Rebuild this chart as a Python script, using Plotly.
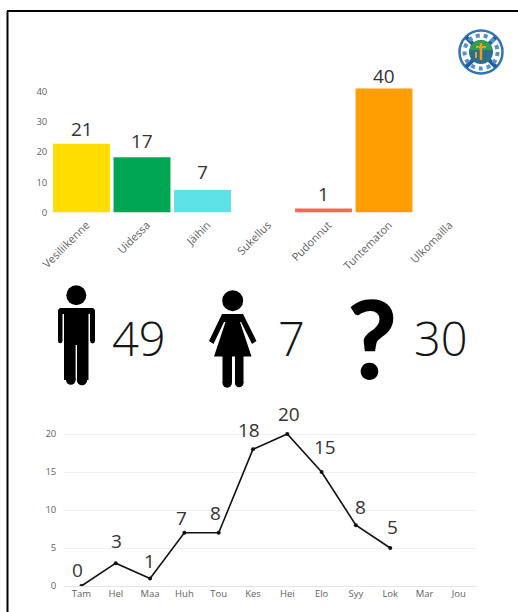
import plotly.graph_objects as go

# Cause chart
causes = ["Vesiliikenne", "Uidessa", "Jäihin", "Sukellus", "Pudonnut", "Tuntematon", "Ulkomailla"]
cause_heights = [22.7, 18.3, 7.4, 0, 1.3, 41, 0]
cause_labels = ["21", "17", "7", "", "1", "40", ""]
cause_colors = ["#FFDD00", "#00A651", "#5CE1E6", "#FFFFFF", "#FF6650", "#FF9E00", "#FFFFFF"]

# Monthly chart
months = ["Tam", "Hel", "Maa", "Huh", "Tou", "Kes", "Hei", "Elo", "Syy", "Lok", "Mar", "Jou"]
month_values = [0, 3, 1, 7, 7, 18, 20, 15, 8, 5]
month_labels = ["0", "3", "1", "7", "8", "18", "20", "15", "8", "5"]
month_xshift = [-4, 1, -1, -3, -3, -4, 2, 3, 5, 2]
month_yshift = [16, 22, 17, 15, 20, 19, 20, 25, 18, 21]

# Gender counts
gender_counts = ["49", "7", "30"]

W, H = 518, 612
FONT = "Open Sans"
TICK = "#5F5F5F"

fig = go.Figure()
fig.add_trace(go.Bar(x=causes, y=cause_heights, marker=dict(color=cause_colors, line=dict(width=0)),
                     width=0.94, xaxis="x", yaxis="y", showlegend=False))
fig.add_trace(go.Scatter(x=months[:len(month_values)], y=month_values, mode="lines+markers",
                         line=dict(color="#111111", width=1.6), marker=dict(color="#111111", size=4),
                         xaxis="x2", yaxis="y2", showlegend=False))
# decorative pixel-unit axis for the border, icons and logo
fig.add_trace(go.Scatter(x=[0], y=[0], mode="markers", marker=dict(opacity=0), xaxis="x3", yaxis="y3",
                         showlegend=False, hoverinfo="skip"))

ann = []
bar_yshift = [0, 1, 3, 0, 0, -2, 0]
for c, h, t, s in zip(causes, cause_heights, cause_labels, bar_yshift):
    if t:
        ann.append(dict(x=c, y=h, xref="x", yref="y", text=t, showarrow=False, yanchor="bottom",
                        yshift=s, font=dict(family=FONT, size=19, color="#333333")))
for m, v, t, dx, dy in zip(months, month_values, month_labels, month_xshift, month_yshift):
    ann.append(dict(x=m, y=v, xref="x2", yref="y2", text=t, showarrow=False, xshift=dx, yshift=dy,
                    yanchor="middle", font=dict(family=FONT, size=19, color="#333333")))
for px, t in zip([139, 291, 441], gender_counts):
    ann.append(dict(x=px, y=338, xref="x3", yref="y3", text=t, showarrow=False, yanchor="middle",
                    font=dict(family=FONT, size=47, color="#151515", weight=300)))
ann.append(dict(x=372, y=337, xref="x3", yref="y3", text="?", showarrow=False, yanchor="middle",
                font=dict(family="Lato", size=108, color="#000000", weight=900)))

def path(shape_pts):
    return "M" + " L".join(f"{x},{y}" for x, y in shape_pts) + " Z"

def filled(p, color="#000000"):
    return dict(type="path", path=p, xref="x3", yref="y3", fillcolor=color, line=dict(width=0), layer="above")

def circle(cx, cy, r, fill="#000000", line=None, lw=0, dash="solid"):
    return dict(type="circle", xref="x3", yref="y3", x0=cx - r, x1=cx + r, y0=cy - r, y1=cy + r,
                fillcolor=fill, line=dict(color=line or fill, width=lw, dash=dash), layer="above")

man = [(60, 308), (93, 308), (95, 310), (95, 341), (90, 341), (90, 314), (88.5, 314), (88.5, 380), (77, 380), (77, 345),
       (75.6, 345), (75.6, 380), (64, 380), (64, 314), (62.5, 314), (62.5, 341), (58, 341), (58, 310)]
woman = [(222, 314), (243, 314), (256.5, 341), (252, 344), (241, 322), (240, 322), (251.5, 356.5), (243.5, 356.5), (243.5, 383),
         (235, 383), (235, 356.5), (232, 356.5), (232, 383), (222.5, 383), (222.5, 356.5), (214, 356.5),
         (225.5, 322), (224, 322), (213.5, 344), (209, 341)]

shapes = [
    dict(type="line", xref="x3", yref="y3", x0=7.5, x1=7.5, y0=11, y1=612, line=dict(color="#000", width=2)),
    dict(type="line", xref="x3", yref="y3", x0=7, x1=518, y0=11, y1=11, line=dict(color="#000", width=2)),
    circle(76.3, 295.3, 10), filled(path(man)),
    circle(70.8, 380, 4.8), circle(82, 380, 5.2), circle(60.2, 341, 2.2), circle(92.5, 341, 2.4),
    circle(232.7, 300.7, 10.5), filled(path(woman)),
    circle(227.2, 383, 4.7), circle(239.2, 383, 4.3),
    # logo
    circle(481, 52, 21.5, "#FFFFFF", "#2F74B5", 2.5),
    dict(type="line", xref="x3", yref="y3", x0=466, x1=496, y0=37, y1=67, line=dict(color="#1F5FA0", width=4), layer="above"),
    dict(type="line", xref="x3", yref="y3", x0=496, x1=466, y0=37, y1=67, line=dict(color="#1F5FA0", width=4), layer="above"),
    circle(481, 52, 16.5, "rgba(0,0,0,0)", "#5B8FC8", 4, "dot"),
    circle(481, 52, 12, "#2C6E8F"),
    filled("M469.5,50 Q471,40.5 481,40 Q491,40.5 492.5,50 Z", "#2E9E4F"),
    dict(type="line", xref="x3", yref="y3", x0=481, x1=481, y0=43, y1=60, line=dict(color="#E8A020", width=2.5), layer="above"),
    dict(type="line", xref="x3", yref="y3", x0=476, x1=486, y0=47, y1=47, line=dict(color="#E8A020", width=2), layer="above"),
    dict(type="line", xref="x3", yref="y3", x0=476, x1=476, y0=52, y1=58, line=dict(color="#E8A020", width=2), layer="above"),
]

def xdom(a, b): return [a / W, b / W]
def ydom(top, bottom): return [1 - bottom / H, 1 - top / H]

fig.update_layout(
    width=W, height=H, margin=dict(l=0, r=0, t=0, b=0, pad=0), autosize=False,
    paper_bgcolor="white", plot_bgcolor="rgba(0,0,0,0)", bargap=0.06, annotations=ann, shapes=shapes,
    font=dict(family=FONT, color=TICK, size=10),
    xaxis=dict(domain=xdom(51.25, 474.75), range=[-0.5, 6.5], type="category", categoryorder="array", categoryarray=causes,
               automargin=False, tickangle=-45, showgrid=False, zeroline=False, showline=False, ticks="",
               ticklabelshift=5, ticklabelstandoff=3, tickfont=dict(size=11, color=TICK)),
    yaxis=dict(domain=ydom(85.5, 212.5), range=[0, 42], tickvals=[0, 10, 20, 30, 40], showgrid=False, zeroline=False,
               automargin=False, showline=False, ticks="", ticklabelstandoff=3, tickfont=dict(size=9.5, color=TICK)),
    xaxis2=dict(domain=xdom(64.3, 476), range=[-0.5, 11.5], type="category", categoryorder="array", categoryarray=months,
                automargin=False, anchor="y2", tickangle=0, showgrid=False, zeroline=False, showline=False, ticks="",
                tickvals=months, ticktext=months, tickfont=dict(size=9.5, color=TICK)),
    yaxis2=dict(domain=ydom(410, 586), range=[0, 23.16], tickvals=[0, 5, 10, 15, 20], anchor="x2", gridcolor="#F0F0F0",
                automargin=False, gridwidth=1, zeroline=True, zerolinecolor="#E4E4E4", zerolinewidth=1, showline=False, ticks="",
                ticklabelstandoff=7, tickfont=dict(size=9.5, color=TICK)),
    xaxis3=dict(domain=[0, 1], range=[0, W], visible=False, anchor="y3", fixedrange=True, automargin=False),
    yaxis3=dict(domain=[0, 1], range=[H, 0], visible=False, anchor="x3", fixedrange=True, automargin=False),
)
fig.write_html("out.html", config=dict(displayModeBar=False),
               post_script="document.body.style.margin='0';document.documentElement.style.overflow='hidden';")
